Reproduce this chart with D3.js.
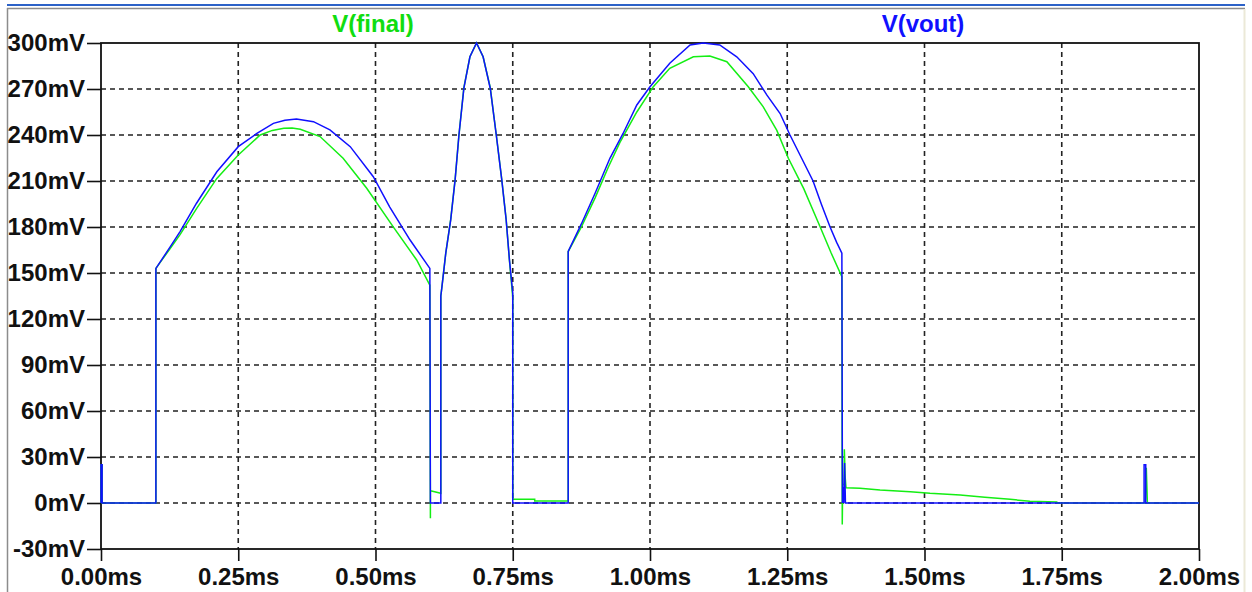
<!DOCTYPE html>
<html>
<head>
<meta charset="utf-8">
<script src="https://cdn.jsdelivr.net/npm/d3@7/dist/d3.min.js"></script>
<style>
  html, body { margin: 0; padding: 0; background: #fff; }
  svg { display: block; }
  .lbl { font-family: "Liberation Sans", Arial, sans-serif; font-weight: bold; font-size: 24px; }
</style>
</head>
<body>
<svg id="chart" width="1252" height="592"></svg>
<script>
// Transient simulation traces: time in ms, voltage in mV
const timeTicks = [0, 0.25, 0.5, 0.75, 1.0, 1.25, 1.5, 1.75, 2.0];
const voltTicks = [-30, 0, 30, 60, 90, 120, 150, 180, 210, 240, 270, 300];

const traceNames = ["V(final)", "V(vout)"];

// V(vout)
const vout = [
  [0, 0], [0, 25], [0.002, 25], [0.002, 0],
  [0.1, 0], [0.1, 153],
  [0.126, 167], [0.144, 177], [0.174, 195.5], [0.211, 216], [0.25, 232.4],
  [0.284, 241], [0.314, 247.6], [0.335, 249.6], [0.356, 250.4], [0.387, 248.7], [0.417, 243.3],
  [0.454, 232.4], [0.496, 212.8], [0.526, 193], [0.563, 171.5], [0.599, 153],
  [0.6, 0], [0.619, 0], [0.619, 135],
  [0.621, 141], [0.628, 163], [0.637, 184.6], [0.645, 210.7], [0.652, 240],
  [0.661, 270.5], [0.672, 291], [0.684, 300], [0.696, 291], [0.709, 270.5],
  [0.72, 240], [0.73, 210.7], [0.738, 184.6], [0.744, 158.5], [0.75, 137],
  [0.75, 0], [0.851, 0], [0.851, 164],
  [0.875, 182], [0.9, 202], [0.927, 224.8], [0.951, 241], [0.976, 259.6],
  [1.0, 271.5], [1.036, 286.8], [1.073, 298.7], [1.097, 300], [1.127, 298.7],
  [1.158, 291], [1.188, 280], [1.213, 266], [1.237, 254], [1.255, 240],
  [1.276, 225], [1.297, 210], [1.312, 195], [1.328, 180], [1.34, 170], [1.3495, 163],
  [1.3505, 0], [1.3515, 10], [1.353, 10], [1.353, 0], [1.3545, 26], [1.356, 0],
  [1.9, 0], [1.9, 25], [1.903, 25], [1.903, 0], [2.0, 0]
];

// V(final)
const vfinal = [
  [0, 0], [0, 25], [0.002, 25], [0.002, 0],
  [0.1, 0], [0.1, 153],
  [0.126, 166], [0.144, 175], [0.174, 192], [0.211, 211.7], [0.25, 227],
  [0.29, 240], [0.312, 243], [0.333, 244.4], [0.348, 244.6], [0.363, 243.7], [0.399, 239], [0.441, 224.8],
  [0.484, 205.3], [0.532, 180.2], [0.575, 158.5], [0.599, 142],
  [0.6, -10], [0.6, 8], [0.619, 6.3], [0.619, 135],
  [0.621, 141], [0.628, 163], [0.637, 185], [0.645, 211], [0.652, 240],
  [0.661, 271], [0.672, 291], [0.684, 300], [0.696, 291], [0.709, 271],
  [0.72, 240], [0.73, 211], [0.738, 185], [0.744, 158], [0.75, 134],
  [0.75, 2.4], [0.79, 2.4], [0.79, 1.3], [0.851, 1.3], [0.851, 164],
  [0.875, 180], [0.9, 199], [0.924, 219], [0.945, 235], [0.976, 255],
  [1.006, 271.5], [1.036, 283.5], [1.079, 291], [1.109, 291.5], [1.14, 287.8],
  [1.179, 271.5], [1.206, 258.5], [1.231, 243], [1.252, 224.8], [1.28, 205],
  [1.31, 180], [1.33, 163], [1.3495, 147.6],
  [1.3502, -14], [1.351, 12], [1.3535, 12], [1.354, 35], [1.3555, 17],
  [1.357, 10], [1.3825, 9.6], [1.419, 8.5], [1.474, 7.4], [1.51, 6.3],
  [1.565, 5.2], [1.61, 3.7], [1.656, 2.4], [1.692, 1.1], [1.741, 0.7],
  [1.742, 0], [1.902, 0], [1.904, 23], [1.906, 0], [2.0, 0]
];

const svg = d3.select("#chart");
const W = 1252, H = 592;
const plot = { left: 101, right: 1199, top: 43, bottom: 549 };

const x = d3.scaleLinear().domain([0, 2]).range([plot.left, plot.right]);
const y = d3.scaleLinear().domain([-30, 300]).range([plot.bottom, plot.top]);

// window chrome
svg.append("rect").attr("width", W).attr("height", H).attr("fill", "#fff");
svg.append("line").attr("x1", 7).attr("x2", 1245).attr("y1", 5).attr("y2", 5)
  .attr("stroke", "#2c62c8").attr("stroke-width", 2);
svg.append("line").attr("x1", 7).attr("x2", 1245).attr("y1", 8.5).attr("y2", 8.5)
  .attr("stroke", "#8c8c8c").attr("stroke-width", 1.5);
svg.append("line").attr("x1", 7.5).attr("x2", 7.5).attr("y1", 8).attr("y2", H)
  .attr("stroke", "#8c8c8c").attr("stroke-width", 1.5);
svg.append("line").attr("x1", 1244.5).attr("x2", 1244.5).attr("y1", 9).attr("y2", H)
  .attr("stroke", "#ece9d8").attr("stroke-width", 2);

// dashed grid
const grid = svg.append("g").attr("stroke", "#222").attr("stroke-width", 1.6)
  .attr("stroke-dasharray", "5,4");
grid.selectAll("line.h").data(voltTicks.filter(v => v > -30 && v < 300)).join("line")
  .attr("x1", plot.left).attr("x2", plot.right)
  .attr("y1", d => y(d)).attr("y2", d => y(d));
grid.selectAll("line.v").data(timeTicks.filter(t => t > 0 && t < 2)).join("line")
  .attr("y1", plot.top).attr("y2", plot.bottom)
  .attr("x1", d => x(d)).attr("x2", d => x(d));

// axes
const yAxis = d3.axisLeft(y).tickValues(voltTicks).tickSize(14).tickPadding(2)
  .tickFormat(d => d + "mV");
const xAxis = d3.axisBottom(x).tickValues(timeTicks).tickSize(12).tickPadding(7)
  .tickFormat(d => d3.format(".2f")(d) + "ms");

const gy = svg.append("g").attr("transform", `translate(${plot.left},0)`).call(yAxis);
const gx = svg.append("g").attr("transform", `translate(0,${plot.bottom})`).call(xAxis);
[gy, gx].forEach(g => {
  g.select(".domain").remove();
  g.selectAll(".tick line").attr("stroke", "#111").attr("stroke-width", 1.6);
  g.selectAll(".tick text").attr("class", "lbl").attr("fill", "#111");
});

// plot frame
svg.append("rect")
  .attr("x", plot.left).attr("y", plot.top)
  .attr("width", plot.right - plot.left).attr("height", plot.bottom - plot.top)
  .attr("fill", "none").attr("stroke", "#111").attr("stroke-width", 1.8);

// traces
const line = d3.line().x(d => x(d[0])).y(d => y(d[1]));
svg.append("path").datum(vfinal).attr("d", line)
  .attr("fill", "none").attr("stroke", "#14ee14").attr("stroke-width", 1.5)
  .attr("stroke-linejoin", "miter");
svg.append("path").datum(vout).attr("d", line)
  .attr("fill", "none").attr("stroke", "#1010ff").attr("stroke-width", 1.5)
  .attr("stroke-linejoin", "miter");

// trace labels
const labelColors = ["#10dd10", "#1010ff"];
const labelX = [373, 923];
svg.selectAll("text.trace").data(traceNames).join("text")
  .attr("class", "lbl")
  .attr("x", (d, i) => labelX[i]).attr("y", 32)
  .attr("text-anchor", "middle")
  .attr("fill", (d, i) => labelColors[i])
  .text(d => d);
</script>
</body>
</html>
